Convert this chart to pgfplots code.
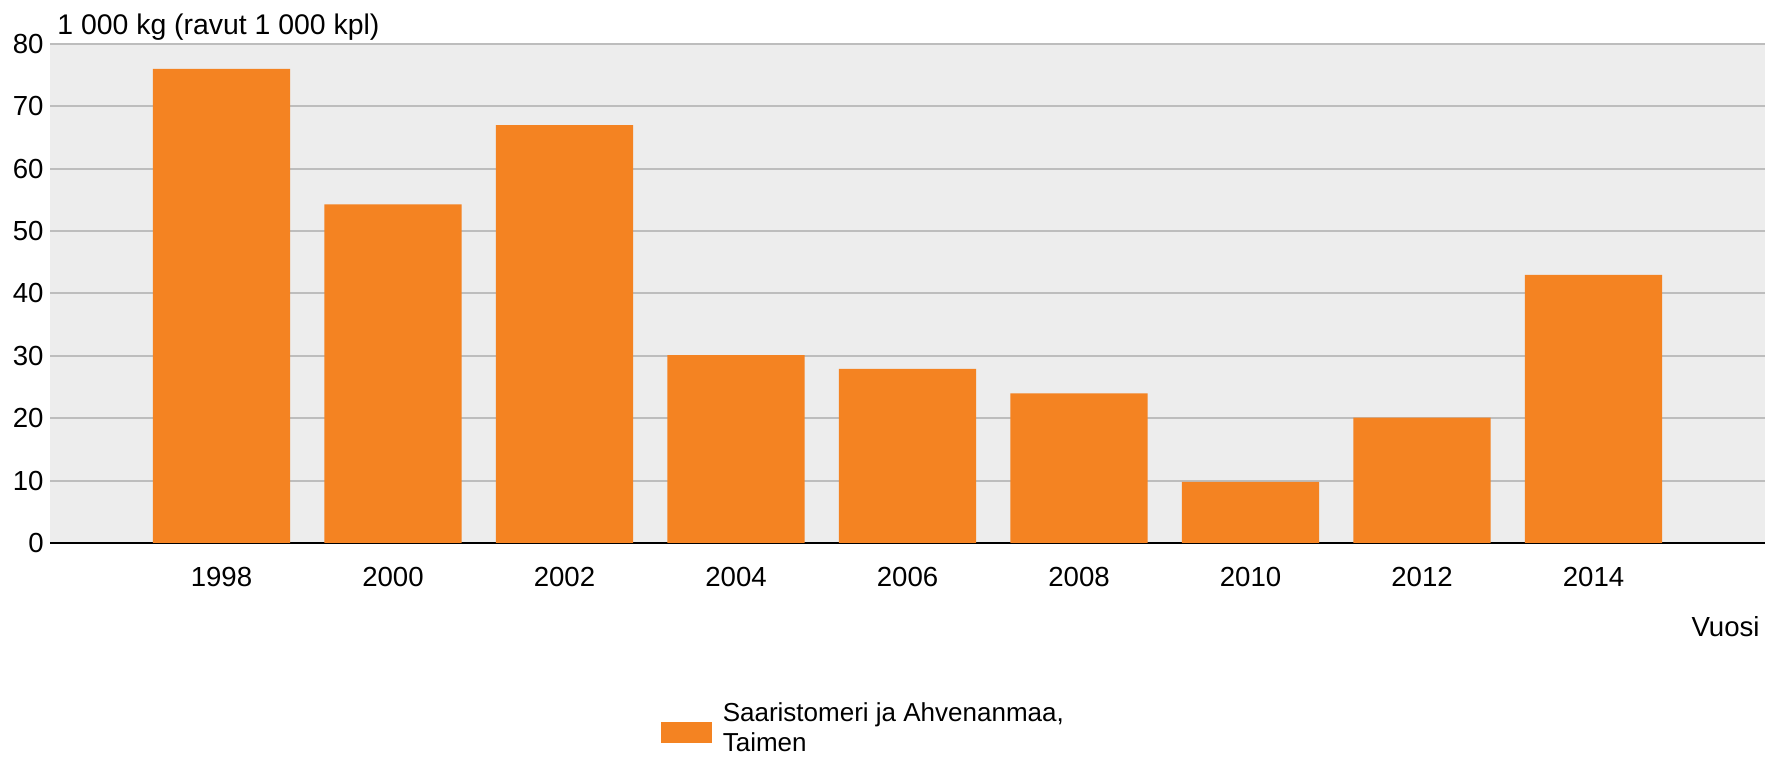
\documentclass[border=0pt]{standalone}
\usepackage{fontspec}
\setmainfont{Liberation Sans}
\usepackage{pgfplots}
\pgfplotsset{compat=1.18}
\definecolor{barorange}{HTML}{F48322}
\definecolor{plotbg}{HTML}{EDEDED}
\definecolor{gridgray}{HTML}{BDBDBD}
\begin{document}
\fontsize{13.8}{16}\selectfont
\begin{tikzpicture}
\begin{axis}[
  set layers,
  scale only axis, width=857.5pt, height=249.5pt,
  xmin=-1, xmax=9, ymin=0, ymax=80,
  xtick={0,...,8},
  xticklabels={1998,2000,2002,2004,2006,2008,2010,2012,2014},
  ytick={0,10,...,80},
  axis x line*=bottom, axis y line*=left,
  x axis line style={black, line width=1.2pt, on layer=axis foreground},
  y axis line style={draw=none},
  major tick length=0pt,
  ymajorgrids, grid style={gridgray, line width=1pt},
  axis background/.style={fill=plotbg},
  /pgf/number format/assume math mode=true,
  ticklabel style={font=\fontsize{13.8}{16}\selectfont},
  yticklabel style={xshift=1.6pt},
  xticklabel style={yshift=-7.4pt},
  clip=false,
  legend style={at={(rel axis cs:0,0)}, anchor=north west, xshift=305.3pt, yshift=-78.3pt,
    draw=none, fill=none, inner sep=0pt, outer sep=0pt,
    nodes={inner sep=0pt, font=\fontsize{13}{15.4}\selectfont}, column sep=5.3pt},
  legend image code/.code={\fill[barorange] (0pt,-11.6pt) rectangle (25.8pt,-0.8pt);},
]
\addplot[ybar, bar width=0.80, fill=barorange, draw=none] coordinates {
  (0,76.0) (1,54.3) (2,67.0) (3,30.1) (4,27.9) (5,24.0) (6,9.8) (7,20.1) (8,43.0)
};
\addlegendentry{\begin{tabular}{@{}l@{}}Saaristomeri ja Ahvenanmaa,\\Taimen\end{tabular}}
\node[anchor=base west, inner sep=0pt, font=\fontsize{14.2}{16}\selectfont] at (rel axis cs:0,1) [xshift=3.5pt, yshift=4.5pt] {1 000 kg (ravut 1 000 kpl)};
\node[anchor=base east, inner sep=0pt] at (rel axis cs:1,0) [xshift=-2.5pt, yshift=-47pt] {Vuosi};
\end{axis}
\pgfresetboundingbox
\path (-25pt,-107.5pt) rectangle (857.5pt,271.5pt);
\end{tikzpicture}
\end{document}
